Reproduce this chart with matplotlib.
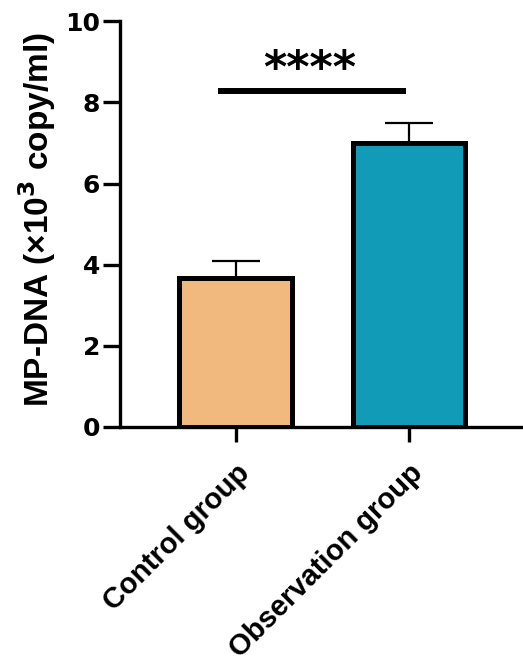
import matplotlib
matplotlib.use("Agg")
import matplotlib.pyplot as plt

categories = ["Control group", "Observation group"]
means = [3.68, 7.0]
errors = [0.40, 0.50]
colors = ["#F1B97E", "#129BB6"]
sig_text = "****"
sig_y = 8.28
yticks = [0, 2, 4, 6, 8, 10]

plt.rcParams['font.family'] = ['Liberation Sans', 'DejaVu Sans']
plt.rcParams['font.weight'] = 'bold'

fig = plt.figure(figsize=(5.23, 6.62), dpi=100)
ax = fig.add_axes([0.229, 0.355, 0.771, 0.613])

x = list(range(len(categories)))
ax.bar(x, means, width=0.65, color=colors, edgecolor='black', linewidth=3.6, zorder=2)
ax.errorbar(x, means, yerr=[[0, 0], errors], fmt='none', ecolor='black',
            elinewidth=1.6, capsize=17, capthick=1.6, zorder=1)

ax.plot([-0.104, 0.983], [sig_y, sig_y], color='black', linewidth=4.3,
        solid_capstyle='butt', clip_on=False)
ax.text(0.43, 8.82, sig_text, ha='center', va='center', fontsize=32,
        fontweight='bold', family='DejaVu Sans')

ax.set_xlim(-0.67, 1.66)
ax.set_ylim(0, 10)
ax.set_yticks(yticks)
ax.set_yticklabels([str(t) for t in yticks], fontsize=18, fontweight='bold',
                   family='DejaVu Sans')
ax.set_xticks(x)
ax.set_xticklabels(categories, rotation=45, ha='right', rotation_mode='anchor',
                   fontsize=21, fontweight='bold')
ax.tick_params(axis='y', length=12, width=2.4, pad=2)
ax.tick_params(axis='x', length=11, width=2.4, pad=12)

fig.text(0.071, 0.669, "MP-DNA (×10$^{\\mathbf{3}}$ copy/ml)", rotation=90,
         ha='center', va='center', fontsize=24, fontweight='bold')

for s in ['top', 'right']:
    ax.spines[s].set_visible(False)
for s in ['left', 'bottom']:
    ax.spines[s].set_linewidth(2.4)

fig.savefig("out.png", dpi=100)
